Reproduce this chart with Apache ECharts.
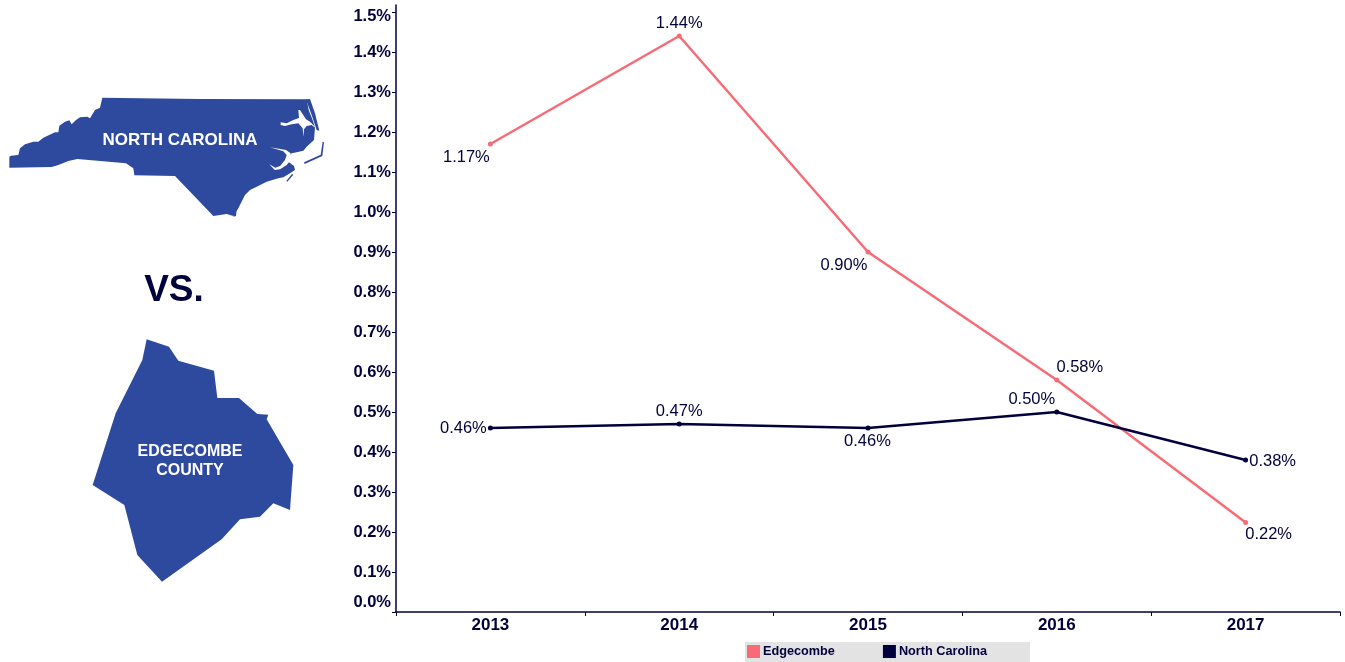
<!DOCTYPE html>
<html>
<head>
<meta charset="utf-8">
<style>
  html, body { margin: 0; padding: 0; background: #fff; }
  #chart { width: 1345px; height: 662px; }
</style>
<script src="https://cdn.jsdelivr.net/npm/echarts@6/dist/echarts.min.js"></script>
</head>
<body>
<div id="chart"></div>
<script>
  const years = ['2013', '2014', '2015', '2016', '2017']
  const edgecombe = [1.17, 1.44, 0.90, 0.58, 0.224]
  const northCarolina = [0.46, 0.47, 0.46, 0.50, 0.38]
  const yTicks = [0, 0.1, 0.2, 0.3, 0.4, 0.5, 0.6, 0.7, 0.8, 0.9, 1.0, 1.1, 1.2, 1.3, 1.4, 1.5]

  // label offsets from each point
  const edgecombeOffsets = [[-24, 13], [0, -13], [-24, 13], [23, -13], [23, 12]]
  const ncOffsets = [[-27, 0], [0, -13], [-0.5, 13], [-25, -13], [27, 1]]

  const navy = '#00003c'
  const pink = '#f66b75'
  const mapBlue = '#2e4a9e'

  // outlines traced at 3x, see toPixels
  const ncLand = [[28,263],[28,230],[33,227],[55,225],[60,205],[75,193],[100,185],[115,185],[130,173],[165,157],[175,157],[178,137],[195,125],[208,121],[215,133],[228,120],[240,112],[262,110],[270,115],[285,90],[300,83],[307,53],[600,57],[920,58],[926,90],[936,115],[945,142],[942,180],[920,200],[910,212],[890,217],[875,220],[868,227],[865,245],[882,258],[885,270],[870,280],[850,292],[835,295],[800,305],[770,320],[750,330],[735,345],[715,385],[700,408],[680,402],[640,408],[525,288],[403,286],[400,265],[378,250],[232,237],[205,243],[175,255],[155,261]]
  const ncAlbemarle = [[842,127],[860,130],[880,120],[897,114],[895,90],[900,90],[918,118],[930,125],[945,140],[955,150],[935,135],[920,138],[912,148],[910,170],[908,145],[895,130],[875,133],[855,138],[842,135]]
  const ncPamlico = [[810,202],[858,210],[872,220],[868,245],[860,255],[840,268],[824,270],[808,253],[826,263],[840,258],[855,240],[860,225],[850,214]]
  const ncIslands = [
    [[918,58],[930,57],[945,100],[958,152],[950,150],[935,105],[922,70]],
    [[968,185],[972,187],[967,228],[914,252],[912,247],[962,224]],
    [[876,282],[880,284],[862,305],[859,303]],
    [[712,368],[708,408],[700,410],[706,385]]
  ]
  const edgecombeShape = [[200,28],[267,50],[295,92],[402,122],[412,204],[477,204],[532,252],[565,254],[560,268],[640,405],[630,540],[580,520],[540,560],[480,568],[425,628],[246,755],[172,675],[133,525],[38,465],[107,250],[187,90]]

  function toPixels(points, left, top) {
    return points.map(function (p) { return [left + p[0] / 3, top + p[1] / 3] })
  }

  function shape(points, fill) {
    return { type: 'polygon', silent: true, shape: { points: points }, style: { fill: fill } }
  }

  function mapText(text, x, y, size) {
    return {
      type: 'text', silent: true, x: x, y: y,
      style: { text: text, fill: '#fff', font: 'bold ' + size + 'px "Liberation Sans"', align: 'center', verticalAlign: 'middle' }
    }
  }

  function pointData(values, offsets) {
    return values.map(function (v, i) {
      return { value: v, label: { offset: offsets[i] } }
    })
  }

  function lineSeries(name, values, offsets, color) {
    return {
      name: name,
      type: 'line',
      data: pointData(values, offsets),
      symbol: 'circle',
      symbolSize: 5,
      animation: false,
      lineStyle: { color: color, width: 2.5 },
      itemStyle: { color: color },
      label: {
        show: true,
        position: 'inside',
        color: navy,
        fontSize: 16.5,
        fontFamily: '"Liberation Sans"',
        formatter: function (p) { return p.value.toFixed(2) + '%' }
      }
    }
  }

  const chart = echarts.init(document.getElementById('chart'))
  chart.setOption({
    backgroundColor: '#fff',
    textStyle: { fontFamily: '"Liberation Sans"' },
    grid: { left: 396, right: 5, top: 5, bottom: 50 },
    legend: {
      left: 745,
      top: 642,
      padding: [3, 43, 4, 2],
      backgroundColor: '#e3e3e3',
      borderRadius: 0,
      icon: 'rect',
      itemWidth: 13,
      itemHeight: 13,
      itemGap: 48,
      data: ['Edgecombe', 'North Carolina'],
      textStyle: { color: navy, fontSize: 12.7, fontWeight: 'bold', padding: [0, 0, 0, -2] }
    },
    xAxis: {
      type: 'category',
      data: years,
      axisLine: { lineStyle: { color: navy, width: 1.5 } },
      axisTick: { show: true, length: 4, lineStyle: { color: navy } },
      axisLabel: { color: navy, fontSize: 17, fontWeight: 'bold', margin: 5 }
    },
    yAxis: {
      type: 'value',
      min: 0,
      max: 1.5175,
      splitLine: { show: false },
      axisLine: { show: true, lineStyle: { color: navy, width: 1.5 } },
      axisTick: { show: true, length: 4, lineStyle: { color: navy }, customValues: yTicks },
      axisLabel: {
        customValues: yTicks,
        color: navy,
        fontSize: 16.5,
        fontWeight: 'bold',
        margin: 5,
        formatter: function (v) {
          const text = v.toFixed(1) + '%'
          if (v === 0) return '{low|' + text + '}'
          if (v === 1.5) return '{high|' + text + '}'
          return text
        },
        rich: {
          low: { color: navy, fontSize: 16.5, fontWeight: 'bold', padding: [0, 0, 20, 0] },
          high: { color: navy, fontSize: 16.5, fontWeight: 'bold', padding: [8, 0, 0, 0] }
        }
      }
    },
    series: [
      lineSeries('Edgecombe', edgecombe, edgecombeOffsets, pink),
      lineSeries('North Carolina', northCarolina, ncOffsets, navy)
    ],
    graphic: [
      shape(toPixels(ncLand, 0, 80), mapBlue),
      shape(toPixels(ncAlbemarle, 0, 80), '#fff'),
      shape(toPixels(ncPamlico, 0, 80), '#fff')
    ].concat(ncIslands.map(function (s) {
      return shape(toPixels(s, 0, 80), mapBlue)
    })).concat([
      shape(toPixels(edgecombeShape, 80, 330), mapBlue),
      mapText('NORTH CAROLINA', 180, 140, 17),
      mapText('EDGECOMBE', 190, 452, 16),
      mapText('COUNTY', 190, 471, 16),
      {
        type: 'text', silent: true, x: 174, y: 291,
        style: { text: 'VS.', fill: navy, font: 'bold 37px "Liberation Sans"', align: 'center', verticalAlign: 'middle' }
      }
    ])
  })
</script>
</body>
</html>
